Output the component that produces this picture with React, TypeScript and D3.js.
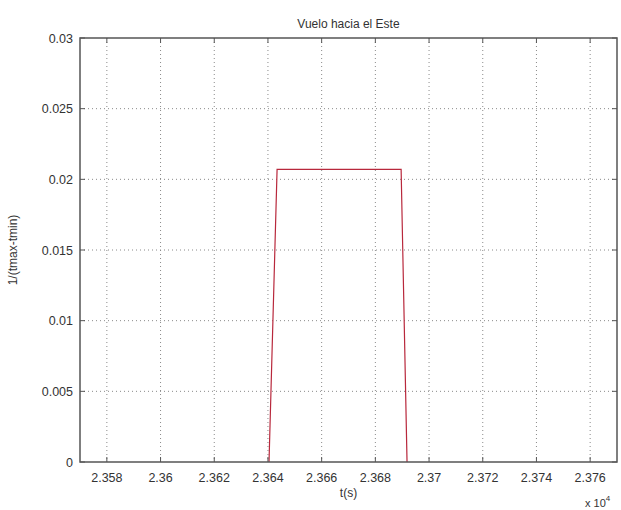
import React from "react";
import * as d3 from "d3";

// Flight window pulse: time in seconds, value 1/(tmax - tmin)
const timeSeconds = [23640.4, 23643.4, 23689.6, 23691.8];
const pulseValues = [0, 0.0207, 0.0207, 0];

const xTicks = [23580, 23600, 23620, 23640, 23660, 23680, 23700, 23720, 23740, 23760];
const yTicks = [0, 0.005, 0.01, 0.015, 0.02, 0.025, 0.03];
const yTickLabels = ["0", "0.005", "0.01", "0.015", "0.02", "0.025", "0.03"];

const titleText = "Vuelo hacia el Este";
const xLabel = "t(s)";
const yLabel = "1/(tmax-tmin)";

const W = 621;
const H = 510;
const left = 80;
const right = 617;
const top = 38;
const bottom = 462;

export default function App() {
  const x = d3.scaleLinear().domain([23570, 23770]).range([left, right]);
  const y = d3.scaleLinear().domain([0, 0.03]).range([bottom, top]);

  const pts = timeSeconds.map((t, i) => [t, pulseValues[i]] as [number, number]);
  const line = d3
    .line<[number, number]>()
    .x((d) => x(d[0]))
    .y((d) => y(d[1]));

  const font = "'Liberation Sans', Arial, sans-serif";
  const tickLen = 5;
  const gridColor = "#8a8a8a";
  const axisColor = "#555";

  return (
    <svg
      width={W}
      height={H}
      style={{ position: "absolute", left: 0, top: 0, background: "#fff" }}
      fontFamily={font}
    >
      <rect x={0} y={0} width={W} height={H} fill="#fff" />
      {/* grid */}
      {xTicks.map((t) => (
        <line
          key={"gx" + t}
          x1={x(t)}
          x2={x(t)}
          y1={top}
          y2={bottom}
          stroke={gridColor}
          strokeWidth={1}
          strokeDasharray="1 3"
        />
      ))}
      {yTicks.slice(1, -1).map((v) => (
        <line
          key={"gy" + v}
          x1={left}
          x2={right}
          y1={y(v)}
          y2={y(v)}
          stroke={gridColor}
          strokeWidth={1}
          strokeDasharray="1 3"
        />
      ))}

      {/* data */}
      <path d={line(pts) || ""} fill="none" stroke="#b8283c" strokeWidth={1.2} />

      {/* ticks */}
      {xTicks.map((t) => (
        <g key={"tx" + t} stroke={axisColor} strokeWidth={1}>
          <line x1={x(t)} x2={x(t)} y1={bottom} y2={bottom - tickLen} />
          <line x1={x(t)} x2={x(t)} y1={top} y2={top + tickLen} />
        </g>
      ))}
      {yTicks.map((v) => (
        <g key={"ty" + v} stroke={axisColor} strokeWidth={1}>
          <line x1={left} x2={left + tickLen} y1={y(v)} y2={y(v)} />
          <line x1={right} x2={right - tickLen} y1={y(v)} y2={y(v)} />
        </g>
      ))}

      {/* box */}
      <rect
        x={left}
        y={top}
        width={right - left}
        height={bottom - top}
        fill="none"
        stroke={axisColor}
        strokeWidth={1.5}
      />

      {/* tick labels */}
      {xTicks.map((t) => (
        <text
          key={"lx" + t}
          x={x(t)}
          y={482}
          textAnchor="middle"
          fontSize={12.5}
          fill="#333"
        >
          {d3.format(".4~f")(t / 1e4)}
        </text>
      ))}
      {yTicks.map((v, i) => (
        <text
          key={"ly" + v}
          x={73}
          y={y(v) + 4.5}
          textAnchor="end"
          fontSize={12.5}
          fill="#333"
        >
          {yTickLabels[i]}
        </text>
      ))}

      {/* exponent */}
      <text x={585} y={507} fontSize={11} fill="#333">
        x 10
        <tspan dy={-6} fontSize={8}>
          4
        </tspan>
      </text>

      {/* titles */}
      <text x={(left + right) / 2} y={28} textAnchor="middle" fontSize={12} fill="#333">
        {titleText}
      </text>
      <text x={(left + right) / 2} y={497} textAnchor="middle" fontSize={12} fill="#333">
        {xLabel}
      </text>
      <text
        transform={`translate(17, ${(top + bottom) / 2}) rotate(-90)`}
        textAnchor="middle"
        fontSize={12}
        fill="#333"
      >
        {yLabel}
      </text>
    </svg>
  );
}
